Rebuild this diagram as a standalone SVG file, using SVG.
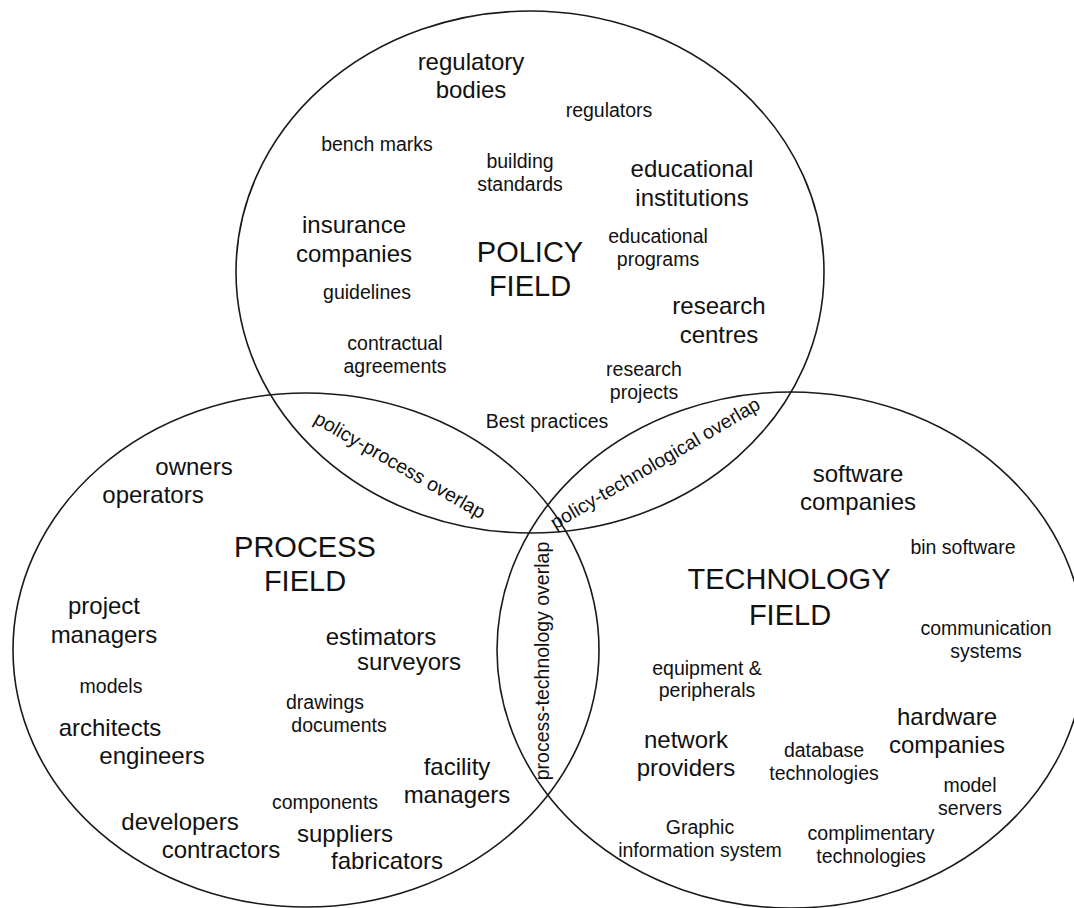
<svg xmlns="http://www.w3.org/2000/svg" width="1074" height="908" viewBox="0 0 1074 908">
<style>
text{font-family:"Liberation Sans",Arial,Helvetica,sans-serif;fill:#111;text-anchor:middle}
.s{font-size:19.5px}
.m{font-size:24px}
.l{font-size:29px}
.c{fill:none;stroke:#1a1a1a;stroke-width:1.6}
</style>
<rect width="1074" height="908" fill="#fff"/>
<g id="circles">
<ellipse id="policy-circle" class="c" cx="530" cy="272" rx="294" ry="261"/>
<ellipse id="process-circle" class="c" cx="306" cy="650" rx="293" ry="257"/>
<ellipse id="technology-circle" class="c" cx="791" cy="650" rx="294" ry="258"/>
</g>
<g id="policy-field">
<g id="regulatory-bodies"><text class="m" x="471" y="70">regulatory</text><text class="m" x="471" y="98">bodies</text></g>
<g id="regulators"><text class="s" x="609" y="117">regulators</text></g>
<g id="bench-marks"><text class="s" x="377" y="151">bench marks</text></g>
<g id="building-standards"><text class="s" x="520" y="168">building</text><text class="s" x="520" y="191">standards</text></g>
<g id="educational-institutions"><text class="m" x="692" y="177">educational</text><text class="m" x="692" y="206">institutions</text></g>
<g id="insurance-companies"><text class="m" x="354" y="233">insurance</text><text class="m" x="354" y="262">companies</text></g>
<g id="policy-title"><text class="l" x="530" y="262">POLICY</text><text class="l" x="530" y="296">FIELD</text></g>
<g id="educational-programs"><text class="s" x="658" y="243">educational</text><text class="s" x="658" y="266">programs</text></g>
<g id="guidelines"><text class="s" x="367" y="299">guidelines</text></g>
<g id="research-centres"><text class="m" x="719" y="314">research</text><text class="m" x="719" y="343">centres</text></g>
<g id="contractual-agreements"><text class="s" x="395" y="350">contractual</text><text class="s" x="395" y="373">agreements</text></g>
<g id="research-projects"><text class="s" x="644" y="376">research</text><text class="s" x="644" y="399">projects</text></g>
<g id="best-practices"><text class="s" x="547" y="428">Best practices</text></g>
</g>
<g id="overlaps">
<g id="policy-process-overlap"><text class="s" transform="translate(400,465) rotate(30)" dy="0.35em">policy-process overlap</text></g>
<g id="policy-technological-overlap"><text class="s" transform="translate(655,463) rotate(-30.5)" dy="0.35em">policy-technological overlap</text></g>
<g id="process-technology-overlap"><text class="s" transform="translate(542,661) rotate(-90)" dy="0.35em">process-technology overlap</text></g>
</g>
<g id="process-field">
<g id="owners-operators"><text class="m" x="194" y="475">owners</text><text class="m" x="153" y="503">operators</text></g>
<g id="process-title"><text class="l" x="305" y="557">PROCESS</text><text class="l" x="305" y="591">FIELD</text></g>
<g id="project-managers"><text class="m" x="104" y="614">project</text><text class="m" x="104" y="643">managers</text></g>
<g id="estimators-surveyors"><text class="m" x="381" y="645">estimators</text><text class="m" x="409" y="670">surveyors</text></g>
<g id="models"><text class="s" x="111" y="693">models</text></g>
<g id="drawings-documents"><text class="s" x="325" y="709">drawings</text><text class="s" x="339" y="732">documents</text></g>
<g id="architects-engineers"><text class="m" x="110" y="736">architects</text><text class="m" x="152" y="764">engineers</text></g>
<g id="facility-managers"><text class="m" x="457" y="775">facility</text><text class="m" x="457" y="803">managers</text></g>
<g id="components"><text class="s" x="325" y="809">components</text></g>
<g id="developers-contractors"><text class="m" x="180" y="830">developers</text><text class="m" x="221" y="858">contractors</text></g>
<g id="suppliers-fabricators"><text class="m" x="345" y="842">suppliers</text><text class="m" x="387" y="869">fabricators</text></g>
</g>
<g id="technology-field">
<g id="software-companies"><text class="m" x="858" y="482">software</text><text class="m" x="858" y="510">companies</text></g>
<g id="bin-software"><text class="s" x="963" y="554">bin software</text></g>
<g id="technology-title"><text class="l" x="789" y="589">TECHNOLOGY</text><text class="l" x="790" y="625">FIELD</text></g>
<g id="communication-systems"><text class="s" x="986" y="635">communication</text><text class="s" x="986" y="658">systems</text></g>
<g id="equipment-peripherals"><text class="s" x="707" y="675">equipment &amp;</text><text class="s" x="707" y="697">peripherals</text></g>
<g id="hardware-companies"><text class="m" x="947" y="725">hardware</text><text class="m" x="947" y="753">companies</text></g>
<g id="network-providers"><text class="m" x="686" y="748">network</text><text class="m" x="686" y="776">providers</text></g>
<g id="database-technologies"><text class="s" x="824" y="757">database</text><text class="s" x="824" y="780">technologies</text></g>
<g id="model-servers"><text class="s" x="970" y="792">model</text><text class="s" x="970" y="815">servers</text></g>
<g id="graphic-information-system"><text class="s" x="700" y="834">Graphic</text><text class="s" x="700" y="857">information system</text></g>
<g id="complimentary-technologies"><text class="s" x="871" y="840">complimentary</text><text class="s" x="871" y="863">technologies</text></g>
</g>
</svg>
